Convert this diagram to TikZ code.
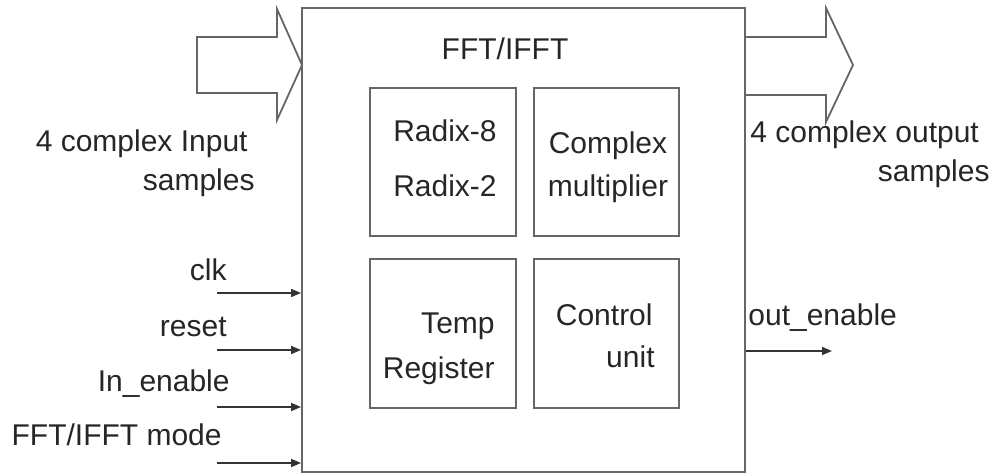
\documentclass[tikz,border=0pt]{standalone}
\usepackage{fontspec}
\setmainfont{Liberation Sans}
\usetikzlibrary{arrows.meta}
\begin{document}
\begin{tikzpicture}[x=0.5pt,y=-0.5pt,
  boxline/.style={draw=black!60,line width=0.9pt},
  blk/.style={boxline,rectangle,inner sep=0pt},
  lbl/.style={inner sep=0pt,font=\fontsize{15}{18}\selectfont,text=black!85},
  sig/.style={draw=black!80,line width=0.8pt,-{Triangle[length=5pt,width=4pt]}}]
\useasboundingbox (0,0) rectangle (997,476);
% main block
\node[blk,minimum width=221.5pt,minimum height=232pt] (main) at (523.5,240) {};
\node[lbl,anchor=base] (title) at (505,60) {FFT/IFFT};
% inner blocks
\node[blk,minimum width=73pt,minimum height=74pt] (b1) at (443,162) {};
\node[blk,minimum width=72.5pt,minimum height=74pt] (b2) at (606.5,162) {};
\node[blk,minimum width=73pt,minimum height=74.5pt] (b3) at (443,333.5) {};
\node[blk,minimum width=72.5pt,minimum height=74.5pt] (b4) at (606.5,333.5) {};
\node[lbl,anchor=base] (r8) at (445,142) {Radix-8};
\node[lbl,anchor=base] (r2) at (445,197) {Radix-2};
\node[lbl,anchor=base] (cm1) at (608,154) {Complex};
\node[lbl,anchor=base] (cm2) at (608,197) {multiplier};
\node[lbl,anchor=base east] (tr1) at (495,333) {Temp};
\node[lbl,anchor=base east] (tr2) at (495,378) {Register};
\node[lbl,anchor=base east] (cu1) at (653,325) {Control};
\node[lbl,anchor=base east] (cu2) at (655,367) {unit};
% block arrows
\coordinate (ia1) at (197,37); \coordinate (ia2) at (277,37); \coordinate (ia3) at (277,9);
\coordinate (ia4) at (302,65); \coordinate (ia5) at (277,120); \coordinate (ia6) at (277,93);
\coordinate (ia7) at (197,93);
\draw[boxline,line join=miter] (ia1) -- (ia2) -- (ia3) -- (ia4) -- (ia5) -- (ia6) -- (ia7) -- cycle;
\coordinate (oa1) at (745,37); \coordinate (oa2) at (826,37); \coordinate (oa3) at (826,8);
\coordinate (oa4) at (853,65); \coordinate (oa5) at (826,122); \coordinate (oa6) at (826,95);
\coordinate (oa7) at (745,95);
\draw[boxline] (oa1) -- (oa2) -- (oa3) -- (oa4) -- (oa5) -- (oa6) -- (oa7);
\node[lbl,anchor=base east] (in1) at (248,152) {4 complex Input};
\node[lbl,anchor=base east] (in2) at (255,191) {samples};
\node[lbl,anchor=base west] (out1) at (750,143) {4 complex output};
\node[lbl,anchor=base east] (out2) at (990,182) {samples};
% signals
\node[lbl,anchor=base east] (clk) at (227,280) {clk};
\node[lbl,anchor=base east] (rst) at (227,336) {reset};
\node[lbl,anchor=base east] (ien) at (230,391) {In\_enable};
\node[lbl,anchor=base east] (mode) at (222,445) {FFT/IFFT mode};
\coordinate (s1) at (217,293); \coordinate (s2) at (217,350);
\coordinate (s3) at (217,407); \coordinate (s4) at (217,463);
\draw[sig] (s1) -- (s1 -| main.west);
\draw[sig] (s2) -- (s2 -| main.west);
\draw[sig] (s3) -- (s3 -| main.west);
\draw[sig] (s4) -- (s4 -| main.west);
\node[lbl,anchor=base west] (oen) at (748,325) {out\_enable};
\coordinate (oe) at (832,351);
\draw[sig] (oe -| main.east) -- (oe);
\end{tikzpicture}
\end{document}
